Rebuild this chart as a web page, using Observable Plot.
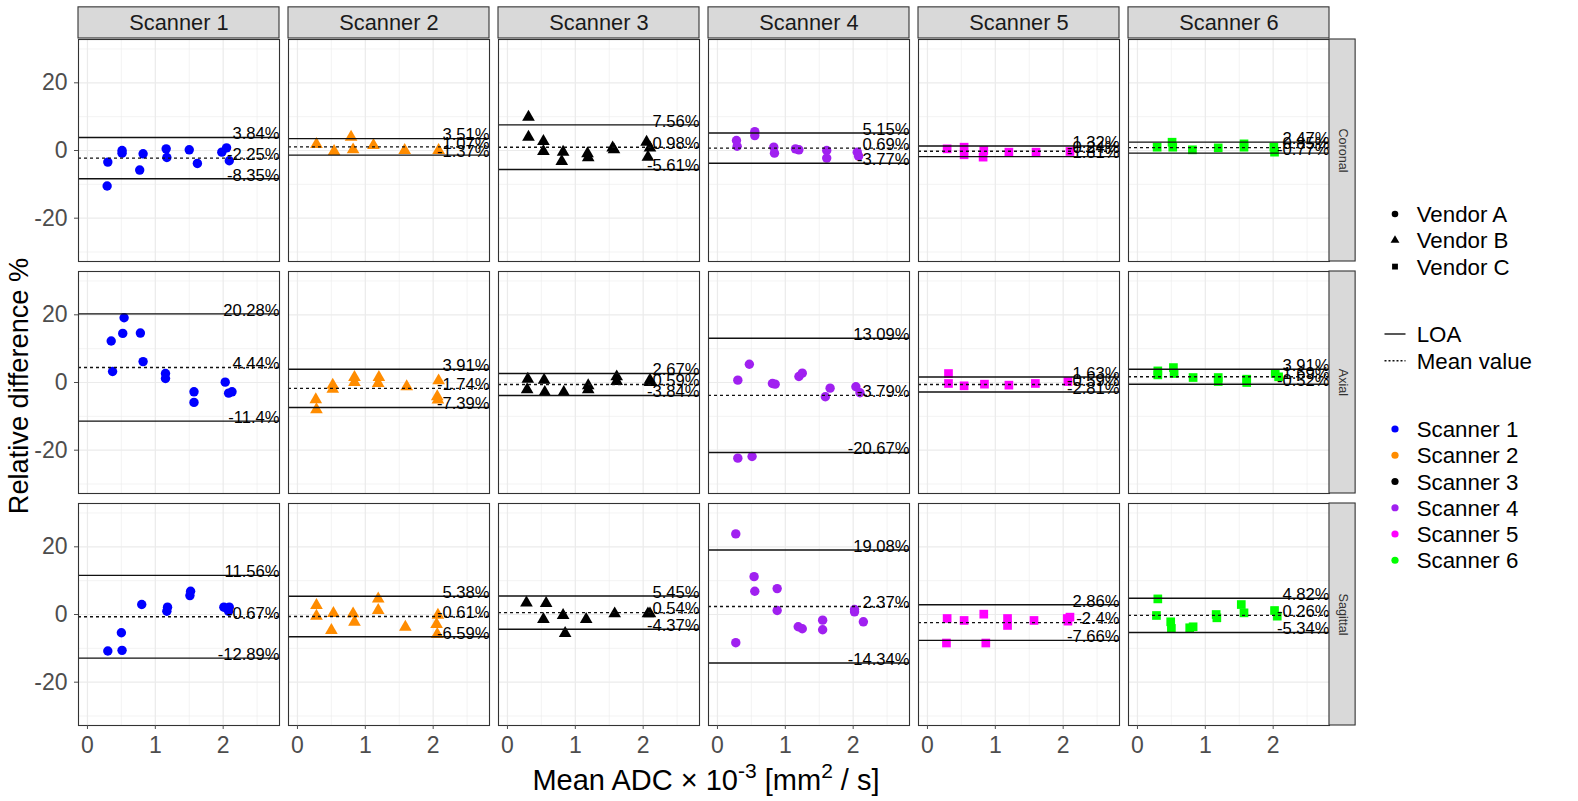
<!DOCTYPE html>
<html>
<head>
<meta charset="utf-8">
<script src="https://cdn.jsdelivr.net/npm/d3@7"></script>
<script src="https://cdn.jsdelivr.net/npm/@observablehq/plot@0.6"></script>
<style>
  html, body { margin: 0; padding: 0; background: #fff; }
  #chart { position: relative; width: 1578px; height: 801px; font-family: "Liberation Sans", Arial, Helvetica, sans-serif; }
  #overlay { position: absolute; left: 0; top: 0; pointer-events: none; }
</style>
</head>
<body>
<div id="chart"></div>
<script>
// ---- categories ----
const scanners = ["Scanner 1", "Scanner 2", "Scanner 3", "Scanner 4", "Scanner 5", "Scanner 6"];
const planes = ["Coronal", "Axial", "Sagittal"];
const vendors = ["Vendor A", "Vendor B", "Vendor C"];
const scannerVendor = ["Vendor A", "Vendor B", "Vendor B", "Vendor A", "Vendor C", "Vendor C"];
const scannerColors = ["#0000FF", "#FF8C00", "#000000", "#A020F0", "#FF00FF", "#00FF00"];
const vendorSymbols = ["circle", "triangle", "square"];

// ---- limits of agreement and mean difference (%), rows = planes, columns = scanners ----
const loaUpper = [
  [3.84, 3.51, 7.56, 5.15, 1.32, 2.47],
  [20.28, 3.91, 2.67, 13.09, 1.63, 3.91],
  [11.56, 5.38, 5.45, 19.08, 2.86, 4.82]
];
const meanDiff = [
  [-2.25, 1.07, 0.98, 0.69, -0.24, 0.85],
  [4.44, -1.74, -0.59, -3.79, -0.59, 1.69],
  [-0.67, -0.61, 0.54, 2.37, -2.4, -0.26]
];
const loaLower = [
  [-8.35, -1.37, -5.61, -3.77, -1.81, -0.77],
  [-11.4, -7.39, -3.84, -20.67, -2.81, -0.52],
  [-12.89, -6.59, -4.37, -14.34, -7.66, -5.34]
];

// ---- measurements: [mean ADC (x10^-3 mm^2/s), relative difference %] per scanner ----
const coronalPoints = [
  [[0.30,-3.43],[0.29,-10.49],[0.51,0],[0.51,-0.78],[0.77,-5.78],[0.82,-0.98],[1.16,0.49],[1.17,-2.06],[1.50,0.2],[1.62,-3.82],[1.98,-0.49],[2.05,0.78],[2.09,-3.04]],
  [[0.28,1.8],[0.54,-0.25],[0.79,3.95],[0.82,0.24],[1.12,1.51],[1.58,0.04],[2.08,0.04]],
  [[0.31,9.85],[0.31,3.96],[0.53,2.69],[0.53,-0.25],[0.82,-0.45],[0.80,-3.2],[1.18,-0.94],[1.19,-2.12],[1.55,0.82],[1.57,0.24],[2.05,2.49],[2.10,0.82],[2.07,-1.92]],
  [[0.28,2.94],[0.29,1.27],[0.55,5.59],[0.55,4.41],[0.83,0.98],[0.84,-0.78],[1.15,0.49],[1.20,0.2],[1.61,0],[1.61,-2.25],[2.06,-0.49],[2.08,-1.67]],
  [[0.29,0.49],[0.54,0.98],[0.54,-1.27],[0.83,0],[0.82,-1.96],[1.20,-0.49],[1.60,-0.49],[2.10,-0.29]],
  [[0.29,0.98],[0.51,2.45],[0.52,0.98],[0.81,0.2],[1.19,0.78],[1.57,1.96],[1.57,0.98],[2.01,0.98],[2.02,-0.49]]
];
const axialPoints = [
  [[0.35,12.25],[0.37,3.24],[0.52,14.51],[0.54,19.12],[0.78,14.61],[0.82,6.18],[1.15,2.65],[1.15,1.18],[1.57,-2.75],[1.57,-5.88],[2.03,0.1],[2.08,-3.14],[2.13,-2.75]],
  [[0.27,-5.06],[0.28,-8.0],[0.52,-0.74],[0.52,-1.92],[0.84,1.51],[0.84,0.04],[1.20,1.51],[1.19,-0.25],[1.61,-1.23],[2.08,0.53],[2.06,-4.18],[2.07,-5.16]],
  [[0.30,1.02],[0.29,-2.12],[0.54,0.73],[0.55,-2.9],[0.83,-2.9],[1.19,-0.94],[1.19,-2.12],[1.61,1.71],[1.61,0.33],[2.10,0.73],[2.10,0.04]],
  [[0.30,0.69],[0.30,-22.35],[0.47,5.39],[0.51,-21.86],[0.81,-0.29],[0.85,-0.49],[1.20,1.76],[1.25,2.75],[1.59,-4.22],[1.66,-1.67],[2.04,-1.27],[2.10,-3.04]],
  [[0.31,2.65],[0.31,-0.29],[0.54,-0.98],[0.84,-0.49],[1.20,-0.78],[1.59,-0.29],[2.07,0.29]],
  [[0.30,3.43],[0.30,2.25],[0.53,4.41],[0.54,2.65],[0.82,1.47],[1.19,1.47],[1.19,0.29],[1.61,0.98],[1.61,0],[2.03,2.65],[2.08,1.67]]
];
const sagittalPoints = [
  [[0.30,-10.78],[0.51,-10.59],[0.50,-5.39],[0.80,2.94],[1.18,2.16],[1.17,0.98],[1.52,6.86],[1.51,5.59],[2.01,2.16],[2.09,2.16],[2.08,0.98]],
  [[0.28,2.69],[0.28,-0.45],[0.53,0.33],[0.50,-4.67],[0.82,0.24],[0.84,-2.21],[1.19,4.65],[1.19,1.22],[1.59,-3.69],[2.07,-0.16],[2.05,-2.9],[2.06,-5.84]],
  [[0.28,3.47],[0.57,3.28],[0.53,-1.43],[0.82,-0.25],[0.85,-5.55],[1.16,-1.43],[1.58,0.24],[2.07,0.24],[2.10,0.24]],
  [[0.27,23.82],[0.27,-8.33],[0.54,11.18],[0.55,6.86],[0.88,7.65],[0.88,1.18],[1.19,-3.63],[1.25,-4.22],[1.55,-1.67],[1.55,-4.51],[2.02,1.47],[2.02,0.78],[2.15,-2.16]],
  [[0.29,-1.18],[0.28,-8.43],[0.54,-1.76],[0.83,0.1],[0.86,-8.43],[1.18,-1.18],[1.18,-3.24],[1.57,-1.76],[2.06,-1.18],[2.10,-0.78],[2.07,-1.96]],
  [[0.30,4.61],[0.28,-0.29],[0.49,-2.16],[0.50,-4.12],[0.77,-3.92],[0.82,-3.63],[1.16,0],[1.17,-0.98],[1.53,2.94],[1.57,0.49],[2.02,1.18],[2.06,-0.49]]
];
const pointsByPlane = [coronalPoints, axialPoints, sagittalPoints];

// ---- axes ----
const xTicks = [0, 1, 2];
const xMinor = [0.5, 1.5, 2.5];
const yTicks = [-20, 0, 20];
const yMinor = [-30, -10, 10, 30];
const xDomain = [-0.132, 2.83];
const yDomain = [-32.8, 32.8];

// ---- tables built from the arrays above ----
const measurements = [];
planes.forEach((plane, p) => scanners.forEach((scanner, s) => {
  for (const [x, y] of pointsByPlane[p][s]) {
    measurements.push({plane, scanner, vendor: scannerVendor[s], x, y});
  }
}));

const limits = [];
planes.forEach((plane, p) => scanners.forEach((scanner, s) => {
  limits.push({plane, scanner, kind: "LOA", y: loaUpper[p][s]});
  limits.push({plane, scanner, kind: "Mean", y: meanDiff[p][s]});
  limits.push({plane, scanner, kind: "LOA", y: loaLower[p][s]});
}));

const topStrips = scanners.map(scanner => ({scanner, plane: planes[0]}));
const sideStrips = planes.map(plane => ({scanner: scanners[scanners.length - 1], plane}));

// strip sizes in data units (3.4 px per % on y, 68 px per unit on x)
const stripGapY = 0.3, stripHY = 9.2;
const stripGapX = 0.0, stripWX = 0.385;

const font = "'Liberation Sans', Arial, Helvetica, sans-serif";

const dotMark = (vendor, r) => Plot.dot(measurements, {
  filter: d => d.vendor === vendor,
  fx: "scanner", fy: "plane", x: "x", y: "y",
  fill: "scanner", symbol: "vendor", r, stroke: "none"
});

const plot = Plot.plot({
  width: 1578,
  height: 801,
  marginLeft: 76.7,
  marginRight: 247.1,
  marginTop: 38.3,
  marginBottom: 75,
  style: {fontFamily: font, background: "transparent", overflow: "visible"},
  fx: {domain: scanners, paddingInner: 0.0418, paddingOuter: 0, axis: null},
  fy: {domain: planes, paddingInner: 0.0421, paddingOuter: 0, axis: null},
  x: {domain: xDomain},
  y: {domain: yDomain},
  color: {domain: scanners, range: scannerColors},
  symbol: {domain: vendors, range: vendorSymbols},
  marks: [
    Plot.frame({fill: "white"}),
    Plot.gridX(xMinor, {stroke: "#EBEBEB", strokeOpacity: 1, strokeWidth: 0.6}),
    Plot.gridY(yMinor, {stroke: "#EBEBEB", strokeOpacity: 1, strokeWidth: 0.6}),
    Plot.gridX(xTicks, {stroke: "#EBEBEB", strokeOpacity: 1, strokeWidth: 1.2}),
    Plot.gridY(yTicks, {stroke: "#EBEBEB", strokeOpacity: 1, strokeWidth: 1.2}),
    dotMark("Vendor A", 4.7),
    dotMark("Vendor B", 4.7),
    dotMark("Vendor C", 4.9),
    Plot.ruleY(limits, {filter: d => d.kind === "LOA", fx: "scanner", fy: "plane", y: "y", stroke: "#111", strokeWidth: 1.4}),
    Plot.ruleY(limits, {filter: d => d.kind === "Mean", fx: "scanner", fy: "plane", y: "y", stroke: "#111", strokeWidth: 1.4, strokeDasharray: "3,3"}),
    Plot.text(limits, {
      fx: "scanner", fy: "plane", x: xDomain[1], y: "y",
      text: d => `${d.y}%`, textAnchor: "end", lineAnchor: "middle", dy: -3.5,
      fontSize: 16.6, fill: "#000", clip: true
    }),
    Plot.frame({stroke: "#333", strokeWidth: 1.1}),
    Plot.axisX(xTicks, {tickSize: 4, tickPadding: 7, fontSize: 23, color: "#4D4D4D", label: null, tickFormat: d => String(d)}),
    Plot.axisY(yTicks, {tickSize: 4, tickPadding: 7, fontSize: 23, color: "#4D4D4D", label: null, tickFormat: d => String(d)}),
    // strip boxes and labels
    Plot.rect(topStrips, {
      fx: "scanner", fy: "plane",
      x1: xDomain[0], x2: xDomain[1],
      y1: yDomain[1] + stripGapY, y2: yDomain[1] + stripGapY + stripHY,
      fill: "#D9D9D9", stroke: "#333", strokeWidth: 1.1, clip: false
    }),
    Plot.text(topStrips, {
      fx: "scanner", fy: "plane",
      x: (xDomain[0] + xDomain[1]) / 2, y: yDomain[1] + stripGapY + stripHY / 2,
      text: "scanner", fontSize: 21.8, fill: "#1A1A1A", clip: false
    }),
    Plot.rect(sideStrips, {
      fx: "scanner", fy: "plane",
      x1: xDomain[1] + stripGapX, x2: xDomain[1] + stripGapX + stripWX,
      y1: yDomain[0], y2: yDomain[1],
      fill: "#D9D9D9", stroke: "#333", strokeWidth: 1.1, clip: false
    }),
    Plot.text(sideStrips, {
      fx: "scanner", fy: "plane",
      x: xDomain[1] + stripGapX + stripWX / 2, y: 0,
      text: "plane", rotate: 90, fontSize: 12.6, fill: "#333", clip: false
    })
  ]
});

const chart = document.getElementById("chart");
chart.appendChild(plot);

// ---- axis titles and legends ----
const svg = d3.select(chart).append("svg")
  .attr("id", "overlay")
  .attr("width", 1578).attr("height", 801)
  .style("font-family", font);

svg.append("text")
  .attr("transform", "translate(18,386) rotate(-90)")
  .attr("text-anchor", "middle")
  .attr("dy", "0.35em")
  .attr("font-size", 27.2)
  .attr("fill", "#000")
  .text("Relative difference %");

const xt = svg.append("text")
  .attr("x", 706).attr("y", 790)
  .attr("text-anchor", "middle")
  .attr("font-size", 29)
  .attr("fill", "#000");
xt.append("tspan").text("Mean ADC  \u00D7 10");
xt.append("tspan").attr("dy", -12).attr("font-size", 21).text("-3");
xt.append("tspan").attr("dy", 12).text(" [mm");
xt.append("tspan").attr("dy", -12).attr("font-size", 21).text("2");
xt.append("tspan").attr("dy", 12).text(" / s]");

const legX = 1395, legTextX = 1416.7, legFont = 22.3;
const symbolTypes = {circle: d3.symbolCircle, triangle: d3.symbolTriangle, square: d3.symbolSquare};

const vendorY = [214, 240.3, 266.6];
vendors.forEach((v, i) => {
  svg.append("path")
    .attr("transform", `translate(${legX},${vendorY[i]})`)
    .attr("d", d3.symbol(symbolTypes[vendorSymbols[i]], 34)())
    .attr("fill", "#000");
  svg.append("text").attr("x", legTextX).attr("y", vendorY[i]).attr("dy", "0.36em")
    .attr("font-size", legFont).attr("fill", "#000").text(v);
});

const lineKeys = ["LOA", "Mean value"];
const lineY = [334, 360.7];
lineKeys.forEach((k, i) => {
  svg.append("line")
    .attr("x1", 1384.5).attr("x2", 1405.5).attr("y1", lineY[i]).attr("y2", lineY[i])
    .attr("stroke", "#111").attr("stroke-width", 1.4)
    .attr("stroke-dasharray", i === 1 ? "2,2" : null);
  svg.append("text").attr("x", legTextX).attr("y", lineY[i]).attr("dy", "0.36em")
    .attr("font-size", legFont).attr("fill", "#000").text(k);
});

scanners.forEach((s, i) => {
  const y = 429 + i * 26.25;
  svg.append("circle").attr("cx", legX).attr("cy", y).attr("r", 3.6).attr("fill", scannerColors[i]);
  svg.append("text").attr("x", legTextX).attr("y", y).attr("dy", "0.36em")
    .attr("font-size", legFont).attr("fill", "#000").text(s);
});
</script>
</body>
</html>
